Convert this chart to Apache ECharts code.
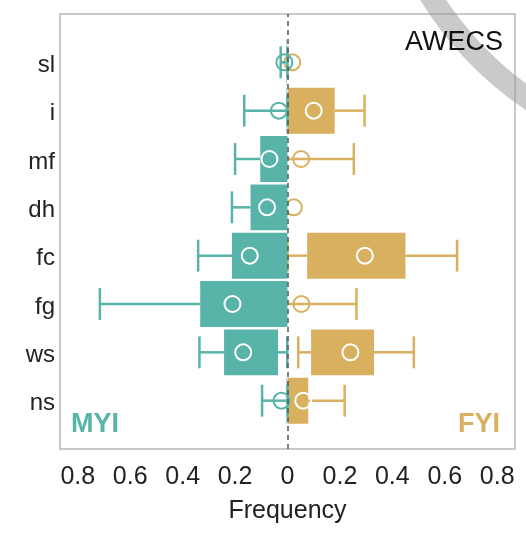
<!DOCTYPE html>
<html>
<head>
<meta charset="utf-8">
<script src="https://cdn.jsdelivr.net/npm/echarts@6/dist/echarts.min.js"></script>
<style>
html,body{margin:0;padding:0;background:#fff;}
#chart{width:526px;height:533px;}
</style>
</head>
<body>
<div id="chart"></div>
<script>
// Categories, top to bottom
const categories = ['sl', 'i', 'mf', 'dh', 'fc', 'fg', 'ws', 'ns'];

// MYI (plotted to the left): whisker low, Q1, Q3, whisker high, mean
const myiWhiskerLow  = [0,     0,     0,     0,     0,     0,     0.001, 0];
const myiQ1          = [0.002, 0.002, 0,     0,     0,     0,     0.036, 0.002];
const myiQ3          = [0.004, 0.004, 0.104, 0.141, 0.212, 0.333, 0.242, 0.004];
const myiWhiskerHigh = [0.026, 0.165, 0.200, 0.212, 0.341, 0.716, 0.336, 0.097];
const myiMean        = [0.012, 0.033, 0.069, 0.078, 0.144, 0.210, 0.169, 0.023];

// FYI (plotted to the right)
const fyiWhiskerLow  = [0, 0,     0,     0, 0,     0,     0.041, 0];
const fyiQ1          = [0, 0,     0,     0, 0.075, 0,     0.090, 0];
const fyiQ3          = [0, 0.180, 0,     0, 0.450, 0,     0.330, 0.079];
const fyiWhiskerHigh = [0, 0.294, 0.253, 0, 0.647, 0.263, 0.482, 0.218];
const fyiMean        = [0.018, 0.100, 0.052, 0.024, 0.295, 0.053, 0.240, 0.060];

const xTickValues = [-0.8, -0.6, -0.4, -0.2, 0, 0.2, 0.4, 0.6, 0.8];

const TEAL = '#58b4a8';
const GOLD = '#d8b05f';
const FONT = 'Liberation Sans, Arial, Helvetica, sans-serif';

function build(sign, wlo, q1, q3, whi, mean) {
  return categories.map((c, i) => [
    categories.length - i,
    sign * wlo[i], sign * q1[i], sign * q3[i], sign * whi[i], sign * mean[i]
  ]);
}

function makeRender(color) {
  return function (params, api) {
    const y = api.value(0);
    const wlo = api.value(1), q1 = api.value(2), q3 = api.value(3), whi = api.value(4), mean = api.value(5);
    const pLo = api.coord([wlo, y]);
    const p1 = api.coord([q1, y]);
    const p3 = api.coord([q3, y]);
    const pHi = api.coord([whi, y]);
    const pM = api.coord([mean, y]);
    const h = api.size([0, 0.95])[1];
    const capH = api.size([0, 0.66])[1];
    const lineStyle = { stroke: color, lineWidth: 2.5, fill: null };
    const children = [];
    if (Math.abs(whi - q3) > 1e-6) {
      children.push({ type: 'line', shape: { x1: p3[0], y1: p3[1], x2: pHi[0], y2: pHi[1] }, style: lineStyle });
      children.push({ type: 'line', shape: { x1: pHi[0], y1: pHi[1] - capH / 2, x2: pHi[0], y2: pHi[1] + capH / 2 }, style: lineStyle });
    }
    if (Math.abs(wlo - q1) > 1e-6) {
      children.push({ type: 'line', shape: { x1: p1[0], y1: p1[1], x2: pLo[0], y2: pLo[1] }, style: lineStyle });
      children.push({ type: 'line', shape: { x1: pLo[0], y1: pLo[1] - capH / 2, x2: pLo[0], y2: pLo[1] + capH / 2 }, style: lineStyle });
    }
    const bw = Math.abs(p3[0] - p1[0]);
    const inBox = bw > 5 && ((mean - q1) * (mean - q3) <= 0);
    if (bw > 0.5) {
      children.push({ type: 'rect', shape: { x: Math.min(p1[0], p3[0]), y: p1[1] - h / 2, width: bw, height: h },
        style: { fill: color, stroke: null } });
    }
    children.push({ type: 'circle', shape: { cx: pM[0], cy: pM[1], r: 8 },
      style: { fill: null, stroke: inBox ? '#ffffff' : color, lineWidth: 2 } });
    return { type: 'group', children: children };
  };
}

const chart = echarts.init(document.getElementById('chart'), null, { renderer: 'canvas' });
const option = {
  animation: false,
  backgroundColor: '#ffffff',
  textStyle: { fontFamily: FONT },
  grid: {
    left: 60, right: 11, top: 14, bottom: 84,
    show: true, borderColor: '#b8b8b8', borderWidth: 1.5, backgroundColor: 'transparent'
  },
  xAxis: {
    type: 'value', min: -0.868, max: 0.868,
    axisLine: { show: false }, axisTick: { show: false }, splitLine: { show: false },
    axisLabel: {
      customValues: xTickValues,
      formatter: v => String(Math.round(Math.abs(v) * 10) / 10),
      fontSize: 25, color: '#222', margin: 16, fontFamily: FONT
    },
    name: 'Frequency', nameLocation: 'middle', nameGap: 50,
    nameTextStyle: { fontSize: 25, color: '#222', fontFamily: FONT }
  },
  yAxis: {
    type: 'value', min: 0, max: 9, interval: 1,
    axisLine: { show: false }, axisTick: { show: false }, splitLine: { show: false },
    axisLabel: {
      formatter: v => (v >= 1 && v <= categories.length) ? categories[categories.length - v] : '',
      fontSize: 24, color: '#222', margin: 5, fontFamily: FONT,
      verticalAlign: 'top', lineHeight: 24, padding: [-9, 0, 0, 0]
    }
  },
  series: [
    {
      name: 'FYI', type: 'custom', renderItem: makeRender(GOLD),
      data: build(1, fyiWhiskerLow, fyiQ1, fyiQ3, fyiWhiskerHigh, fyiMean),
      encode: { x: [1, 2, 3, 4, 5], y: 0 }, z: 2
    },
    {
      name: 'MYI', type: 'custom', renderItem: makeRender(TEAL),
      data: build(-1, myiWhiskerLow, myiQ1, myiQ3, myiWhiskerHigh, myiMean),
      encode: { x: [1, 2, 3, 4, 5], y: 0 }, z: 3,
      markLine: {
        silent: true, symbol: ['none', 'none'], label: { show: false },
        lineStyle: { color: '#555', width: 1.5, type: [5, 4] },
        data: [{ xAxis: 0 }], z: 10
      }
    }
  ],
  graphic: [
    { type: 'arc', z: 50, silent: true,
      shape: { cx: 721, cy: -183, r: 341, startAngle: 1.9, endAngle: 2.9 },
      style: { stroke: 'rgba(150,150,150,0.5)', lineWidth: 22, fill: null } },
    { type: 'text', z: 60, right: 23, top: 29,
      style: { text: 'AWECS', fontSize: 27, fill: '#111', fontFamily: FONT } },
    { type: 'text', z: 60, left: 71, top: 411,
      style: { text: 'MYI', fontSize: 27, fontWeight: 'bold', fill: TEAL, fontFamily: FONT } },
    { type: 'text', z: 60, right: 26, top: 411,
      style: { text: 'FYI', fontSize: 27, fontWeight: 'bold', fill: GOLD, fontFamily: FONT } }
  ]
};
chart.setOption(option);
</script>
</body>
</html>
